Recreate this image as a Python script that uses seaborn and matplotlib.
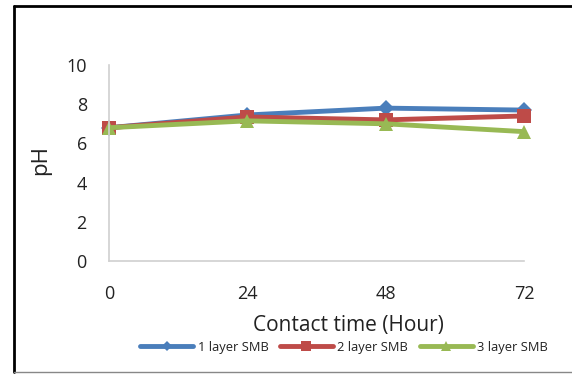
import matplotlib
matplotlib.use("Agg")
import matplotlib.pyplot as plt
from matplotlib.lines import Line2D
import seaborn as sns
import pandas as pd

# Contact time (hours) and measured pH for each number of SMB layers
hours = [0, 24, 48, 72]
ph_1_layer = [6.8, 7.45, 7.8, 7.7]
ph_2_layer = [6.8, 7.35, 7.2, 7.4]
ph_3_layer = [6.8, 7.15, 7.0, 6.6]
series_names = ["1 layer SMB", "2 layer SMB", "3 layer SMB"]
y_ticks = [0, 2, 4, 6, 8, 10]

rows = []
for name, vals in zip(series_names, [ph_1_layer, ph_2_layer, ph_3_layer]):
    for h, v in zip(hours, vals):
        rows.append({"hour": h, "pH": v, "series": name})
df = pd.DataFrame(rows)

sns.set_theme(style="white")
plt.rcParams["font.family"] = ["Open Sans", "DejaVu Sans"]

palette = {"1 layer SMB": "#4A7EBB", "2 layer SMB": "#BE4B48", "3 layer SMB": "#98B954"}
markers = {"1 layer SMB": "D", "2 layer SMB": "s", "3 layer SMB": "^"}
msizes = {"1 layer SMB": 8, "2 layer SMB": 10, "3 layer SMB": 10}

fig = plt.figure(figsize=(5.72, 3.74), dpi=100)
ax = fig.add_axes([109 / 572, 1 - 261 / 374, (524 - 109) / 572, (261 - 65) / 374])

for name in series_names:
    sub = df[df["series"] == name]
    sns.lineplot(data=sub, x="hour", y="pH", ax=ax, color=palette[name],
                 linewidth=3.5, marker=markers[name], markersize=msizes[name],
                 markeredgewidth=0, legend=False, clip_on=False)

ax.set_xlim(0, 72)
ax.set_ylim(0, 10)
ax.set_xticks(hours)
ax.set_yticks(y_ticks)
ax.tick_params(axis="both", length=0, labelsize=13, colors="#222222")
ax.tick_params(axis="y", pad=16)
ax.tick_params(axis="x", pad=17)
for side in ["top", "right"]:
    ax.spines[side].set_visible(False)
for side in ["left", "bottom"]:
    ax.spines[side].set_color("#D0D0D0")
    ax.spines[side].set_linewidth(1.2)

ax.set_xlabel("Contact time (Hour)", fontsize=15, color="#222222")
ax.xaxis.set_label_coords((348 - 109) / (524 - 109), -(325 - 261) / (261 - 65), transform=ax.transAxes)
ax.xaxis.label.set_va("center")
ax.set_ylabel("pH", fontsize=16, color="#222222")
ax.yaxis.set_label_coords(-(109 - 41) / (524 - 109), (261 - 160) / (261 - 65), transform=ax.transAxes)
ax.yaxis.label.set_va("center")

handles = [Line2D([], [], color=palette[n], linewidth=3.5, marker=markers[n],
                  markersize=msizes[n] * 0.7, markeredgewidth=0) for n in series_names]
fig.legend(handles, series_names, loc="center", bbox_to_anchor=(344 / 572, 1 - 347 / 374),
           ncol=3, frameon=False, fontsize=9.3, handlelength=4.1, columnspacing=0.9,
           handletextpad=0.35, labelcolor="#222222", borderpad=0, borderaxespad=0)

# Outer frame
fig.add_artist(Line2D([14 / 572, 14 / 572], [1 - 6 / 374, 1 - 372 / 374],
                      transform=fig.transFigure, color="black", linewidth=2))
fig.add_artist(Line2D([14 / 572, 1.0], [1 - 6 / 374, 1 - 6 / 374],
                      transform=fig.transFigure, color="black", linewidth=2))
fig.add_artist(Line2D([14 / 572, 1.0], [1 - 372 / 374, 1 - 372 / 374],
                      transform=fig.transFigure, color="#888888", linewidth=1))

fig.savefig("out.png", dpi=100)
